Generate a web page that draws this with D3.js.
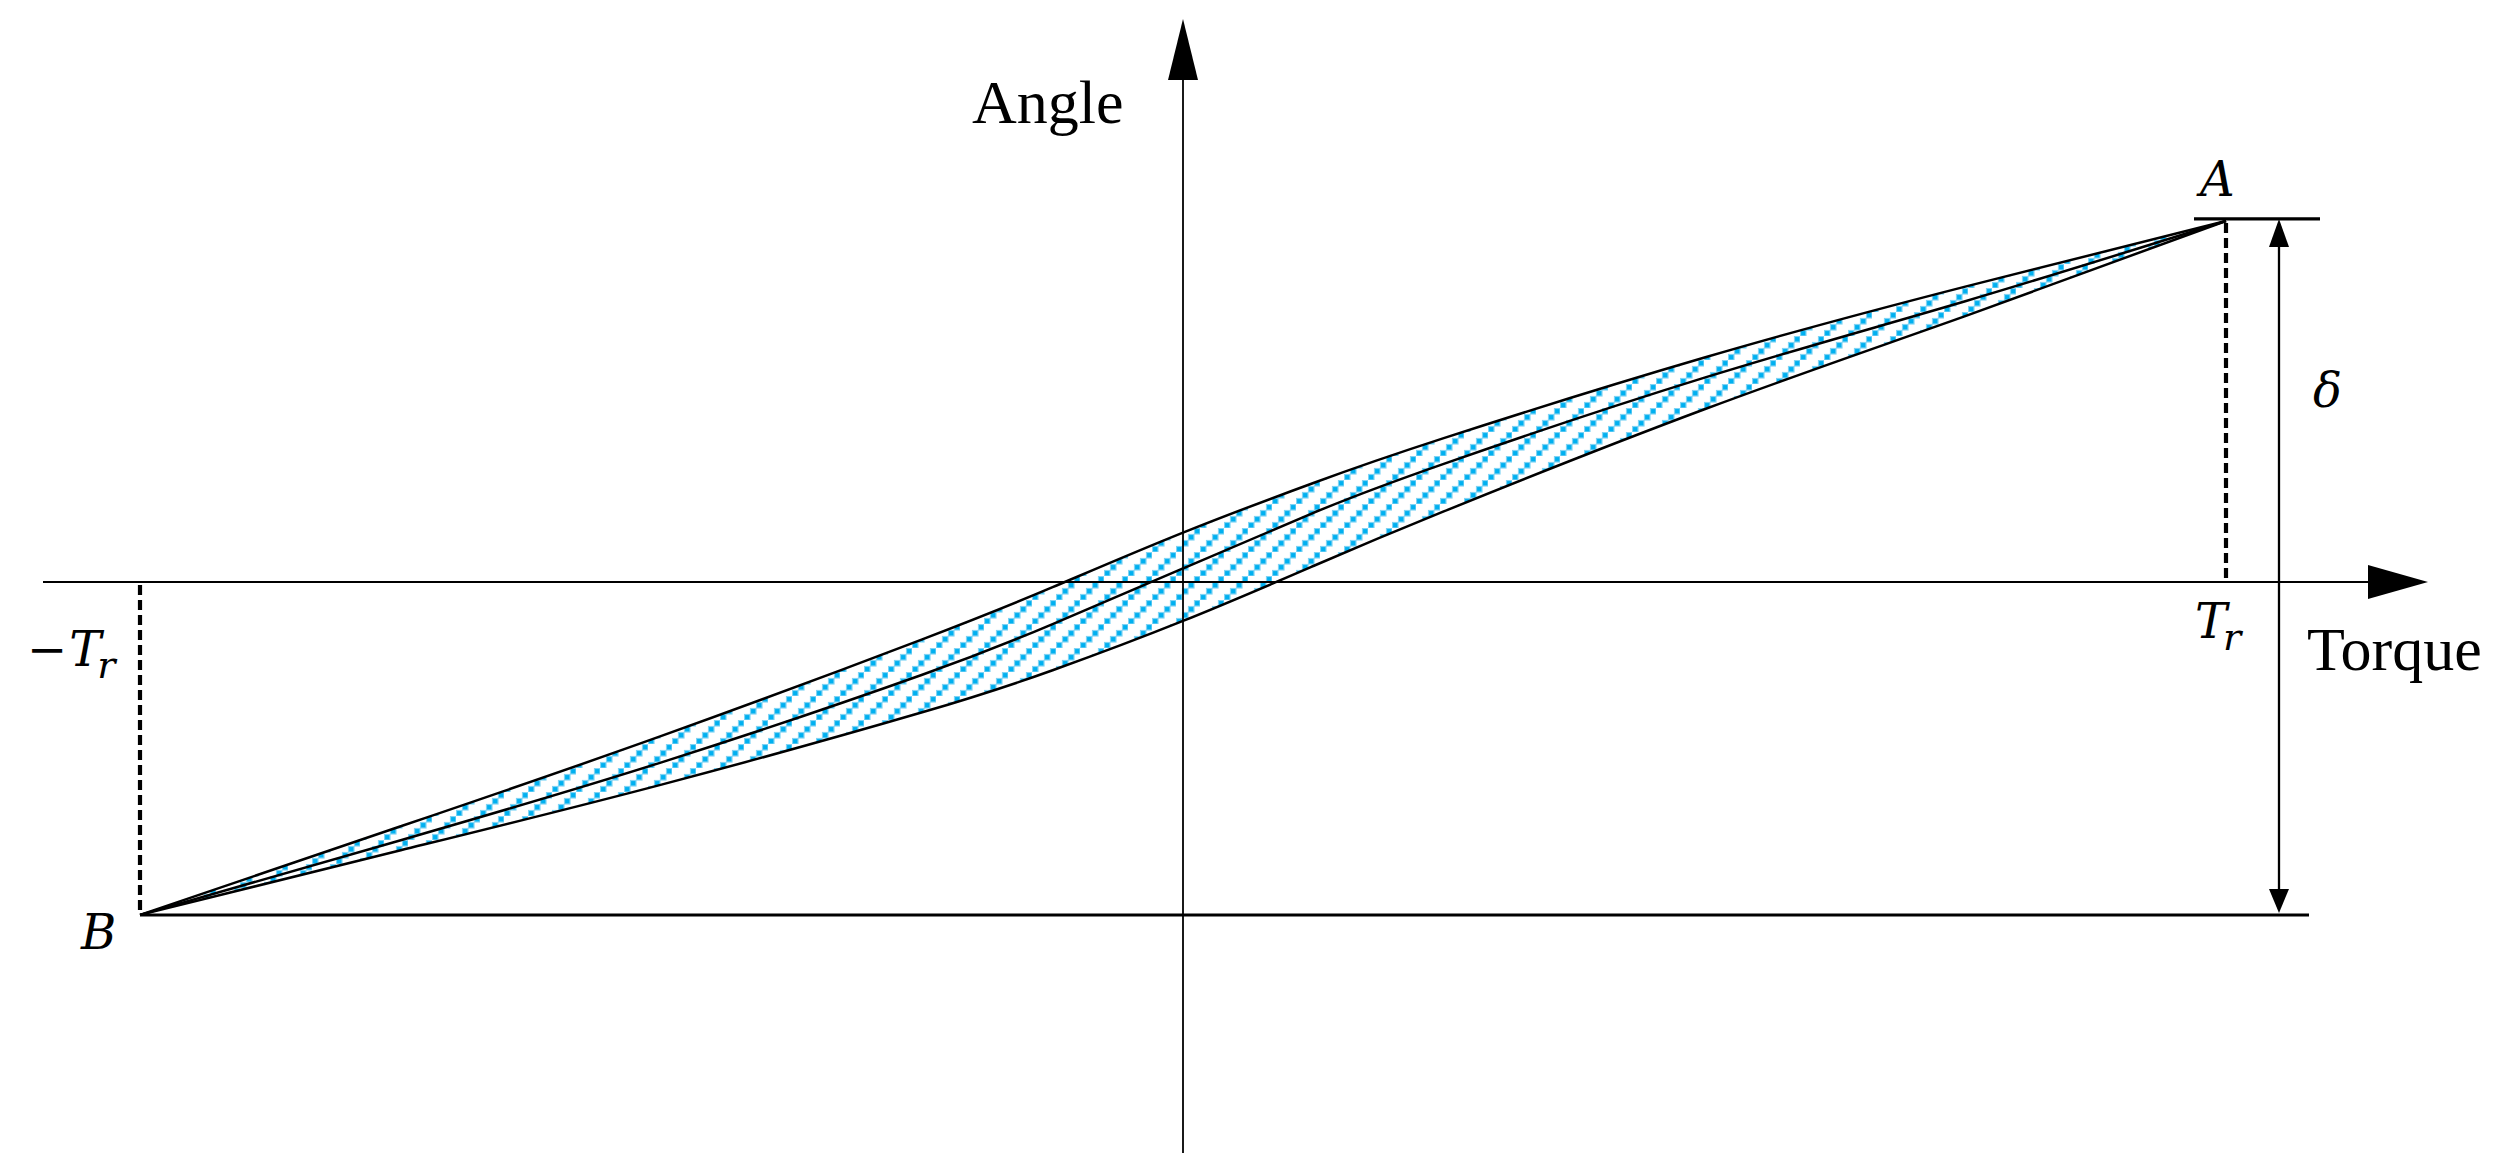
<!DOCTYPE html>
<html lang="en">
<head>
<meta charset="UTF-8">
<title>Torque - Angle hysteresis</title>
<script src="https://cdn.jsdelivr.net/npm/d3@7/dist/d3.min.js"></script>
<style>
	body { margin: 0; background: #fff; }
	svg { display: block; }
	.word { font-family: "Liberation Serif", "Times New Roman", serif; font-size: 62px; fill: #000; }
	.math { font-family: "DejaVu Serif", serif; font-style: italic; font-size: 48px; fill: #000; }
</style>
</head>
<body>
<div id="chart"></div>
<script>

	// torque normalised to Tr, angle in the same arbitrary unit for all curves
	var torque      = [-1, -0.75, -0.5, -0.25, -0.125, 0, 0.125, 0.25, 0.5, 0.75, 1];
	var angleUpper  = [-0.958, -0.703, -0.443, -0.165, -0.015, 0.142, 0.285, 0.414, 0.646, 0.850, 1.039];
	var angleMiddle = [-0.958, -0.743, -0.519, -0.267, -0.121, 0.039, 0.199, 0.340, 0.588, 0.808, 1.039];
	var angleLower  = [-0.958, -0.772, -0.583, -0.375, -0.254, -0.112, 0.046, 0.203, 0.497, 0.765, 1.039];

	var pointA = { torque: 1, angle: 1.039 };
	var pointB = { torque: -1, angle: -0.958 };

	var width = 2514;
	var height = 1173;

	var x = d3.scaleLinear().domain([-1, 1]).range([140, 2226]);
	var y = d3.scaleLinear().domain([0, 1]).range([582, 234.5]);

	var svg = d3.select("#chart").append("svg")
		.attr("width", width)
		.attr("height", height);

	// blue dotted diagonal hatching
	var defs = svg.append("defs");
	var pat = defs.append("pattern")
		.attr("id", "hatch")
		.attr("patternUnits", "userSpaceOnUse")
		.attr("width", 24)
		.attr("height", 24);
	d3.range(4).forEach(function(i){
		pat.append("rect")
			.attr("x", i * 6 + 0.5)
			.attr("y", 18 - i * 6 + 0.5)
			.attr("width", 5.5)
			.attr("height", 5.5)
			.attr("fill", "#00b0f0")
			.attr("stroke", "#7fd3f4")
			.attr("stroke-width", 1.2);
	});

	var rows = torque.map(function(t, i){
		return { t: t, up: angleUpper[i], mid: angleMiddle[i], low: angleLower[i] };
	});

	var band = d3.area()
		.x(function(d){ return x(d.t); })
		.y0(function(d){ return y(d.low); })
		.y1(function(d){ return y(d.up); })
		.curve(d3.curveNatural);

	svg.append("path")
		.datum(rows)
		.attr("d", band)
		.attr("fill", "url(#hatch)");

	// axes
	var ax0 = x(0), ay0 = y(0);

	svg.append("line")
		.attr("x1", 43).attr("x2", 2372)
		.attr("y1", ay0).attr("y2", ay0)
		.attr("stroke", "#000").attr("stroke-width", 1.8);
	svg.append("path")
		.attr("d", "M2368," + (ay0 - 17) + "L2428," + ay0 + "L2368," + (ay0 + 17) + "Z")
		.attr("fill", "#000");

	svg.append("line")
		.attr("x1", ax0).attr("x2", ax0)
		.attr("y1", 1153).attr("y2", 76)
		.attr("stroke", "#000").attr("stroke-width", 1.8);
	svg.append("path")
		.attr("d", "M" + (ax0 - 15) + ",80L" + ax0 + ",19L" + (ax0 + 15) + ",80Z")
		.attr("fill", "#000");

	// curves
	var keys = ["up", "mid", "low"];
	keys.forEach(function(k){
		var line = d3.line()
			.x(function(d){ return x(d.t); })
			.y(function(d){ return y(d[k]); })
			.curve(d3.curveNatural);
		svg.append("path")
			.datum(rows)
			.attr("d", line)
			.attr("fill", "none")
			.attr("stroke", "#000")
			.attr("stroke-width", 2.5);
	});

	// reference lines at A and B
	var yA = y(pointA.angle) - 2;
	var yB = y(pointB.angle);
	svg.append("line")
		.attr("x1", 2194).attr("x2", 2320)
		.attr("y1", yA).attr("y2", yA)
		.attr("stroke", "#000").attr("stroke-width", 3.2);
	svg.append("line")
		.attr("x1", x(pointB.torque)).attr("x2", 2309)
		.attr("y1", yB).attr("y2", yB)
		.attr("stroke", "#000").attr("stroke-width", 3);

	// dashed drop lines
	svg.append("line")
		.attr("x1", x(pointA.torque)).attr("x2", x(pointA.torque))
		.attr("y1", y(pointA.angle) + 2).attr("y2", ay0)
		.attr("stroke", "#000").attr("stroke-width", 4.2)
		.attr("stroke-dasharray", "10,5");
	svg.append("line")
		.attr("x1", x(pointB.torque)).attr("x2", x(pointB.torque))
		.attr("y1", ay0 + 3).attr("y2", yB)
		.attr("stroke", "#000").attr("stroke-width", 4.2)
		.attr("stroke-dasharray", "10,5");

	// delta double arrow
	var dx = 2279;
	svg.append("line")
		.attr("x1", dx).attr("x2", dx)
		.attr("y1", yA + 20).attr("y2", yB - 18)
		.attr("stroke", "#000").attr("stroke-width", 2.3);
	svg.append("path")
		.attr("d", "M" + (dx - 10) + "," + (yA + 28) + "L" + dx + "," + yA + "L" + (dx + 10) + "," + (yA + 28) + "Z")
		.attr("fill", "#000");
	svg.append("path")
		.attr("d", "M" + (dx - 10) + "," + (yB - 26) + "L" + dx + "," + (yB - 2) + "L" + (dx + 10) + "," + (yB - 26) + "Z")
		.attr("fill", "#000");

	// labels
	svg.append("text").attr("class", "word").attr("x", 972).attr("y", 123).text("Angle");
	svg.append("text").attr("class", "word").attr("x", 2307).attr("y", 670).text("Torque");

	svg.append("text").attr("class", "math").attr("x", 2200).attr("y", 196).text("A");
	svg.append("text").attr("class", "math").attr("x", 81).attr("y", 949).text("B");
	svg.append("text").attr("class", "math").attr("x", 2313).attr("y", 407).text("δ");

	var tr = svg.append("text").attr("class", "math").attr("x", 2195).attr("y", 638);
	tr.append("tspan").text("T");
	tr.append("tspan").attr("dy", 12).attr("dx", -4).attr("font-size", 38).text("r");

	var mtr = svg.append("text").attr("class", "math").attr("x", 27).attr("y", 666);
	mtr.append("tspan").attr("font-style", "normal").text("−");
	mtr.append("tspan").attr("dx", 2).text("T");
	mtr.append("tspan").attr("dy", 12).attr("dx", -4).attr("font-size", 38).text("r");

</script>
</body>
</html>
